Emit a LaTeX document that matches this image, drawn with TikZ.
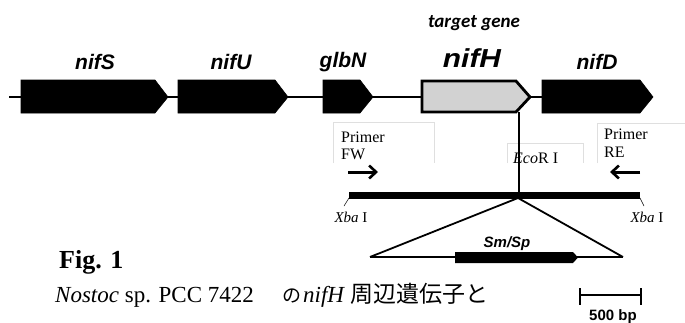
\documentclass[tikz,border=0pt]{standalone}
\usepackage{fontspec}
\setmainfont{Liberation Serif}
\newfontfamily\genefont{Liberation Sans}
\newfontfamily\tgfont{Carlito}
\newfontfamily\jpfont{Noto Sans CJK JP}
\usetikzlibrary{arrows.meta}

\tikzset{
  gene/.style={fill=black, draw=black, line width=0.6pt, line join=miter},
  target/.style={fill=gray!35, draw=black, line width=2.8pt, line join=miter},
  genelabel/.style={font=\genefont\bfseries\itshape\fontsize{21}{21}\selectfont, anchor=base, inner sep=0pt},
  serif/.style={font=\fontsize{16}{16}\selectfont, inner sep=0pt},
  sitebox/.style={draw=gray!25, line width=0.6pt},
  primer/.style={line width=3pt, -{Straight Barb[length=7pt,width=13pt,line width=2.6pt]}},
}

\begin{document}
\begin{tikzpicture}[x=1pt,y=-1pt]
\useasboundingbox (0,0) rectangle (685,322);

% chromosome backbone
\coordinate (bbL) at (9,97);
\coordinate (bbR) at (542,97);
\draw[line width=1.6pt] (bbL) -- (bbR);

% gene arrows
\draw[gene] (21,80) -- (155,80) -- (168,97) -- (155,113) -- (21,113) -- cycle;
\draw[gene] (178,80) -- (275,80) -- (288,97) -- (275,113) -- (178,113) -- cycle;
\draw[gene] (323,80) -- (360,80) -- (373,97) -- (360,113) -- (323,113) -- cycle;
\draw[target] (422,81) -- (516,81) -- (530,97) -- (516,112) -- (422,112) -- cycle;
\draw[gene] (542,80) -- (640,80) -- (653,97) -- (640,113) -- (542,113) -- cycle;

% gene names
\node[genelabel] (lS) at (95,69) {nifS};
\node[genelabel] (lU) at (231,69) {nifU};
\node[genelabel] (lG) at (343,67) {glbN};
\node[genelabel, font=\genefont\bfseries\itshape\fontsize{26}{26}\selectfont, xscale=1.15] (lH) at (472,67) {nifH};
\node[genelabel] (lD) at (597,69) {nifD};
\node[anchor=base, inner sep=0pt, font=\tgfont\bfseries\itshape\fontsize{19}{19}\selectfont] (tg) at (474,27) {target gene};

% label boxes (open at the bottom)
\draw[sitebox] (333,163) -- (333,122) -- (434,122) -- (434,163);
\draw[sitebox] (507,163) -- (507,143) -- (583,143) -- (583,163);
\draw[sitebox] (597,163) -- (597,123) -- (686,123);

\node[serif, anchor=base west] (pf1) at (341,142) {Primer};
\node[serif, anchor=base west] (pf2) at (341,159) {FW};
\node[serif, anchor=base west] (pr1) at (604,139) {Primer};
\node[serif, anchor=base west] (pr2) at (604,157) {RE};

% cloned fragment
\coordinate (fragL) at (349,195);
\coordinate (fragR) at (640,195);
\coordinate (eco) at (519,195);
\coordinate (ecoTop) at (519,112);
\draw[line width=1.4pt] (ecoTop) -- (eco);
\node[serif, anchor=base west] (ecoL) at (513,163) {\textit{Eco}R I};
\draw[line width=7pt] (fragL) -- (fragR);

% primers
\coordinate (fwS) at (348,172);
\coordinate (fwE) at (378,172);
\coordinate (reS) at (640,172);
\coordinate (reE) at (610,172);
\draw[primer] (fwS) -- (fwE);
\draw[primer] (reS) -- (reE);

% XbaI sites
\coordinate (xL) at (344,206);
\coordinate (xR) at (644,206);
\draw[line width=0.5pt] (349,198) -- (xL);
\draw[line width=0.5pt] (640,198) -- (xR);
\node[serif, anchor=base, font=\fontsize{15}{15}\selectfont] (xbaL) at (351,222) {\textit{Xba} I};
\node[serif, anchor=base, font=\fontsize{15}{15}\selectfont] (xbaR) at (647,222) {\textit{Xba} I};

% insertion of the cassette
\coordinate (apex) at (518,198);
\coordinate (insL) at (370,257);
\coordinate (insR) at (623,257);
\draw[line width=1.8pt, line join=miter] (insL) -- (apex) -- (insR);
\draw[line width=1.6pt] (insL) -- (insR);
\fill[black] (455,252) -- (573,252) -- (578,257.5) -- (573,263) -- (455,263) -- cycle;
\node[genelabel, font=\genefont\bfseries\itshape\fontsize{15}{15}\selectfont] (sm) at (507,247) {Sm/Sp};

% caption
\node[anchor=base west, inner sep=0pt, font=\bfseries\fontsize{26}{26}\selectfont] (fig) at (59,268) {Fig. 1};
\node[anchor=base west, inner sep=0pt, font=\fontsize{23}{23}\selectfont] (cap1) at (55,302) {\textit{Nostoc} sp. PCC 7422};
\node[anchor=base west, inner sep=0pt, font=\jpfont\fontsize{19}{19}\selectfont] (cap2) at (282,302) {の};
\node[anchor=base west, inner sep=0pt, font=\itshape\fontsize{23}{23}\selectfont] (cap3) at (303,302) {nifH};
\node[anchor=base west, inner sep=0pt, font=\jpfont\fontsize{23}{23}\selectfont] (cap4) at (350,302) {周辺遺伝子と};

% scale bar
\coordinate (sbL) at (580,295);
\coordinate (sbR) at (641,295);
\draw[line width=2.6pt] (sbL) -- (sbR);
\draw[line width=2.6pt] (580,288) -- (580,305);
\draw[line width=2.6pt] (641,288) -- (641,305);
\node[anchor=base, inner sep=0pt, font=\genefont\bfseries\fontsize{15}{15}\selectfont] (sb) at (613,320) {500 bp};
\end{tikzpicture}
\end{document}
